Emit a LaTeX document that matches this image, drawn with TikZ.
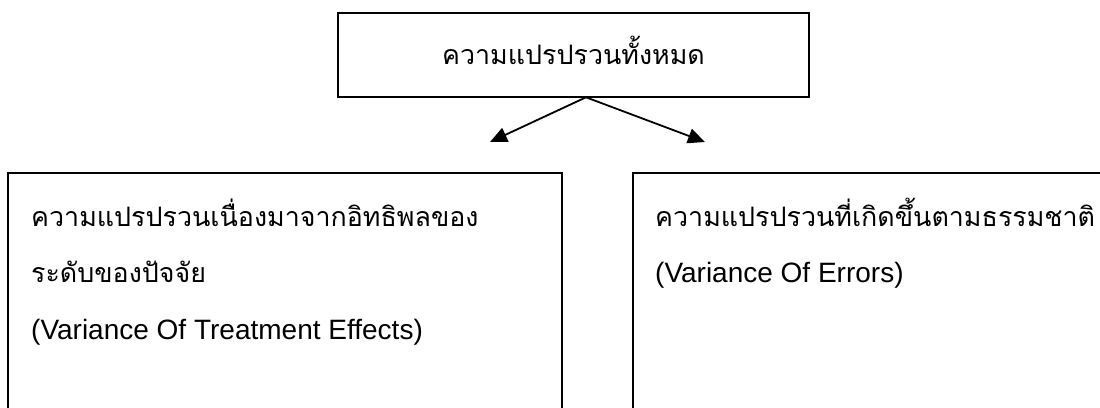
\documentclass[tikz,border=0pt]{standalone}
\usepackage{fontspec}
\setmainfont{Liberation Sans}
\newfontfamily\thaifont[Script=Thai]{Loma}
\usetikzlibrary{arrows.meta}
\begin{document}
\begin{tikzpicture}[x=1pt,y=-1pt,
  box/.style={draw, line width=2pt, inner sep=0pt, outer sep=0pt},
  thai/.style={inner sep=0pt, font=\fontsize{26.8}{32}\thaifont},
  latin/.style={inner sep=0pt, font=\fontsize{28}{33}\selectfont},
  conn/.style={line width=1.8pt, -{Triangle[length=17pt,width=15pt]}}]
\clip (0,0) rectangle (1100,407);
\fill[white] (0,0) rectangle (1100,407);
% top box
\node[box, minimum width=471.6pt, minimum height=84.3pt] (top) at (573.5,55.15) {};
\node[thai, anchor=base] (toptext) at (573.5,64) {ความแปรปรวนทั้งหมด};
% bottom boxes (open at the bottom / right, cut by the page)
\node[box, anchor=north west, minimum width=553.4pt, minimum height=280pt] (left) at (8.3,172.7) {};
\node[box, anchor=north west, minimum width=520pt, minimum height=280pt] (right) at (633.3,172.7) {};
% texts
\node[thai, anchor=base west] (l1) at (31,226) {ความแปรปรวนเนื่องมาจากอิทธิพลของ};
\node[thai, anchor=base west] (l2) at (31,282) {ระดับของปัจจัย};
\node[latin, anchor=base west] (l3) at (31,339) {(Variance Of Treatment Effects)};
\node[thai, anchor=base west] (r1) at (655,226) {ความแปรปรวนที่เกิดขึ้นตามธรรมชาติ};
\node[latin, anchor=base west] (r2) at (655,282) {(Variance Of Errors)};
% connectors
\coordinate (apex) at (586,97.3);
\coordinate (tipL) at (490,142);
\coordinate (tipR) at (705,142);
\draw[conn] (apex) -- (tipL);
\draw[conn] (apex) -- (tipR);
\end{tikzpicture}
\end{document}
